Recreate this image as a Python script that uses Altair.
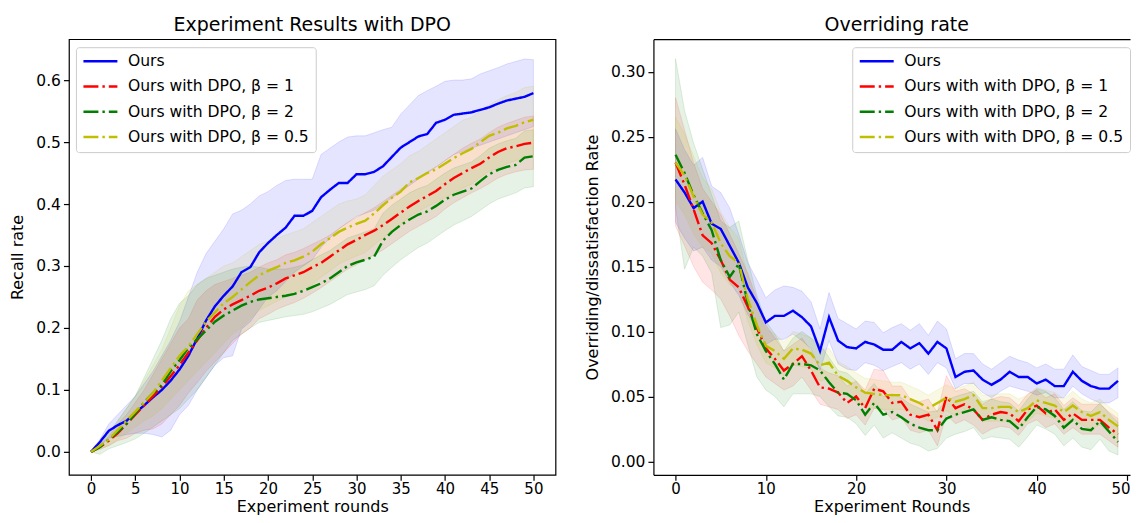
import altair as alt
import pandas as pd

# ---------------- data ----------------
ROUNDS_L = list(range(51))
ROUNDS_R = list(range(50))

LABELS_L = ["Ours", "Ours with DPO, β = 1", "Ours with DPO, β = 2", "Ours with DPO, β = 0.5"]
LABELS_R = ["Ours", "Ours with with DPO, β = 1", "Ours with with DPO, β = 2", "Ours with with DPO, β = 0.5"]

# Left panel: recall rate
L_OURS = [0.000, 0.016, 0.034, 0.043, 0.050, 0.063, 0.075, 0.088, 0.100, 0.115,
          0.133, 0.155, 0.183, 0.212, 0.235, 0.252, 0.267, 0.290, 0.298, 0.322,
          0.337, 0.350, 0.362, 0.381, 0.381, 0.389, 0.411, 0.423, 0.434, 0.434,
          0.448, 0.448, 0.452, 0.461, 0.476, 0.491, 0.500, 0.509, 0.513, 0.531,
          0.536, 0.544, 0.546, 0.548, 0.552, 0.556, 0.562, 0.567, 0.570, 0.573,
          0.579]
L_OURS_HI = [0.000, 0.020, 0.045, 0.060, 0.075, 0.090, 0.110, 0.130, 0.155, 0.180,
             0.210, 0.250, 0.290, 0.320, 0.340, 0.360, 0.384, 0.390, 0.400, 0.413,
             0.420, 0.430, 0.438, 0.440, 0.440, 0.440, 0.480, 0.490, 0.500, 0.508,
             0.510, 0.510, 0.515, 0.520, 0.524, 0.545, 0.560, 0.575, 0.583, 0.590,
             0.598, 0.600, 0.600, 0.602, 0.610, 0.615, 0.620, 0.626, 0.630, 0.634,
             0.633]
L_OURS_LO = [0.000, 0.010, 0.022, 0.025, 0.028, 0.030, 0.030, 0.028, 0.024, 0.035,
             0.060, 0.075, 0.100, 0.120, 0.140, 0.152, 0.155, 0.198, 0.210, 0.230,
             0.250, 0.260, 0.275, 0.290, 0.300, 0.310, 0.330, 0.345, 0.360, 0.370,
             0.380, 0.385, 0.390, 0.400, 0.410, 0.420, 0.430, 0.440, 0.450, 0.460,
             0.470, 0.480, 0.485, 0.490, 0.495, 0.500, 0.505, 0.510, 0.515, 0.520,
             0.525]

L_B1 = [0.000, 0.008, 0.018, 0.030, 0.045, 0.060, 0.075, 0.090, 0.105, 0.122,
        0.140, 0.160, 0.180, 0.200, 0.218, 0.230, 0.238, 0.245, 0.252, 0.260,
        0.265, 0.272, 0.280, 0.285, 0.290, 0.298, 0.305, 0.315, 0.325, 0.335,
        0.342, 0.350, 0.357, 0.366, 0.376, 0.386, 0.396, 0.405, 0.413, 0.421,
        0.432, 0.442, 0.450, 0.458, 0.465, 0.475, 0.484, 0.490, 0.493, 0.497,
        0.499]
L_B1_HI = [0.000, 0.012, 0.025, 0.045, 0.060, 0.080, 0.100, 0.125, 0.150, 0.175,
           0.200, 0.215, 0.245, 0.260, 0.270, 0.275, 0.280, 0.285, 0.290, 0.298,
           0.305, 0.310, 0.318, 0.322, 0.328, 0.335, 0.342, 0.350, 0.360, 0.370,
           0.378, 0.386, 0.394, 0.404, 0.414, 0.424, 0.434, 0.443, 0.452, 0.460,
           0.470, 0.480, 0.490, 0.498, 0.505, 0.515, 0.524, 0.530, 0.535, 0.540,
           0.542]
L_B1_LO = [0.000, 0.004, 0.010, 0.018, 0.022, 0.030, 0.035, 0.037, 0.045, 0.060,
           0.075, 0.095, 0.112, 0.130, 0.145, 0.160, 0.175, 0.190, 0.200, 0.215,
           0.222, 0.230, 0.236, 0.241, 0.248, 0.256, 0.265, 0.275, 0.285, 0.295,
           0.302, 0.310, 0.318, 0.326, 0.336, 0.346, 0.356, 0.364, 0.372, 0.380,
           0.392, 0.402, 0.410, 0.418, 0.425, 0.433, 0.442, 0.448, 0.452, 0.455,
           0.456]

L_B2 = [0.000, 0.008, 0.020, 0.032, 0.045, 0.062, 0.080, 0.095, 0.108, 0.130,
        0.148, 0.168, 0.182, 0.196, 0.210, 0.220, 0.228, 0.236, 0.242, 0.246,
        0.248, 0.250, 0.252, 0.255, 0.260, 0.266, 0.272, 0.280, 0.290, 0.300,
        0.306, 0.310, 0.315, 0.341, 0.355, 0.366, 0.375, 0.383, 0.388, 0.397,
        0.407, 0.415, 0.420, 0.425, 0.437, 0.448, 0.455, 0.460, 0.463, 0.475,
        0.477]
L_B2_HI = [0.000, 0.012, 0.030, 0.050, 0.070, 0.090, 0.120, 0.150, 0.180, 0.215,
           0.240, 0.252, 0.270, 0.280, 0.285, 0.290, 0.295, 0.298, 0.300, 0.298,
           0.295, 0.295, 0.295, 0.298, 0.302, 0.310, 0.318, 0.325, 0.335, 0.345,
           0.350, 0.355, 0.360, 0.385, 0.398, 0.408, 0.418, 0.425, 0.430, 0.440,
           0.450, 0.458, 0.463, 0.468, 0.478, 0.490, 0.497, 0.502, 0.506, 0.518,
           0.520]
L_B2_LO = [0.000, -0.004, 0.005, 0.010, 0.015, 0.021, 0.030, 0.040, 0.050, 0.060,
           0.070, 0.085, 0.100, 0.120, 0.140, 0.160, 0.180, 0.190, 0.200, 0.209,
           0.212, 0.215, 0.218, 0.220, 0.222, 0.226, 0.232, 0.238, 0.246, 0.254,
           0.258, 0.262, 0.268, 0.285, 0.298, 0.310, 0.320, 0.330, 0.337, 0.347,
           0.357, 0.366, 0.373, 0.380, 0.390, 0.400, 0.408, 0.413, 0.418, 0.426,
           0.428]

L_B05 = [0.000, 0.010, 0.020, 0.035, 0.050, 0.065, 0.080, 0.095, 0.115, 0.135,
         0.155, 0.170, 0.190, 0.210, 0.225, 0.240, 0.250, 0.262, 0.274, 0.285,
         0.292, 0.298, 0.305, 0.309, 0.315, 0.323, 0.335, 0.345, 0.355, 0.362,
         0.368, 0.373, 0.385, 0.398, 0.410, 0.420, 0.435, 0.442, 0.450, 0.456,
         0.465, 0.474, 0.482, 0.489, 0.500, 0.510, 0.515, 0.522, 0.526, 0.532,
         0.536]
L_B05_HI = [0.000, 0.014, 0.030, 0.050, 0.070, 0.090, 0.115, 0.140, 0.165, 0.200,
            0.236, 0.260, 0.270, 0.280, 0.290, 0.300, 0.305, 0.315, 0.325, 0.335,
            0.340, 0.345, 0.350, 0.355, 0.360, 0.370, 0.380, 0.390, 0.400, 0.405,
            0.408, 0.415, 0.430, 0.445, 0.455, 0.465, 0.478, 0.485, 0.495, 0.505,
            0.515, 0.525, 0.535, 0.540, 0.550, 0.560, 0.568, 0.575, 0.580, 0.588,
            0.590]
L_B05_LO = [0.000, 0.005, 0.010, 0.020, 0.030, 0.040, 0.050, 0.058, 0.070, 0.085,
            0.100, 0.115, 0.130, 0.145, 0.160, 0.175, 0.190, 0.200, 0.215, 0.228,
            0.236, 0.243, 0.250, 0.256, 0.262, 0.270, 0.282, 0.292, 0.303, 0.310,
            0.316, 0.322, 0.334, 0.345, 0.356, 0.366, 0.380, 0.388, 0.396, 0.403,
            0.410, 0.418, 0.426, 0.432, 0.443, 0.453, 0.458, 0.465, 0.470, 0.476,
            0.480]

# Right panel: overriding / dissatisfaction rate
R_OURS = [0.217, 0.207, 0.195, 0.200, 0.183, 0.179, 0.166, 0.153, 0.134, 0.122,
          0.107, 0.112, 0.112, 0.116, 0.111, 0.104, 0.085, 0.111, 0.093, 0.088,
          0.087, 0.092, 0.090, 0.086, 0.086, 0.092, 0.087, 0.091, 0.083, 0.092,
          0.087, 0.065, 0.069, 0.070, 0.063, 0.059, 0.063, 0.069, 0.065, 0.065,
          0.060, 0.063, 0.058, 0.058, 0.069, 0.062, 0.058, 0.056, 0.056, 0.062]
R_OURS_HI = [0.256, 0.240, 0.228, 0.234, 0.212, 0.207, 0.195, 0.175, 0.153, 0.140,
             0.126, 0.132, 0.135, 0.134, 0.131, 0.123, 0.102, 0.130, 0.110, 0.106,
             0.102, 0.108, 0.107, 0.099, 0.103, 0.106, 0.101, 0.106, 0.097, 0.108,
             0.102, 0.079, 0.083, 0.083, 0.075, 0.071, 0.076, 0.081, 0.078, 0.076,
             0.072, 0.075, 0.071, 0.071, 0.082, 0.073, 0.070, 0.067, 0.067, 0.072]
R_OURS_LO = [0.184, 0.172, 0.162, 0.165, 0.155, 0.150, 0.138, 0.128, 0.113, 0.102,
             0.090, 0.094, 0.094, 0.098, 0.093, 0.087, 0.070, 0.093, 0.075, 0.071,
             0.070, 0.076, 0.074, 0.070, 0.073, 0.076, 0.071, 0.075, 0.067, 0.076,
             0.072, 0.056, 0.060, 0.060, 0.053, 0.049, 0.054, 0.058, 0.056, 0.054,
             0.051, 0.053, 0.049, 0.049, 0.058, 0.052, 0.048, 0.045, 0.045, 0.049]

R_B1 = [0.230, 0.213, 0.194, 0.174, 0.168, 0.155, 0.140, 0.134, 0.119, 0.103,
        0.087, 0.079, 0.070, 0.075, 0.081, 0.070, 0.057, 0.056, 0.053, 0.045,
        0.050, 0.041, 0.056, 0.054, 0.045, 0.046, 0.036, 0.034, 0.036, 0.024,
        0.050, 0.041, 0.044, 0.040, 0.032, 0.036, 0.038, 0.037, 0.031, 0.040,
        0.043, 0.037, 0.040, 0.032, 0.037, 0.032, 0.032, 0.032, 0.026, 0.021]
R_B1_HI = [0.280, 0.255, 0.230, 0.210, 0.200, 0.190, 0.175, 0.160, 0.145, 0.125,
           0.105, 0.095, 0.085, 0.090, 0.095, 0.085, 0.072, 0.068, 0.066, 0.058,
           0.062, 0.055, 0.071, 0.070, 0.058, 0.058, 0.048, 0.046, 0.048, 0.038,
           0.066, 0.054, 0.056, 0.052, 0.044, 0.048, 0.050, 0.049, 0.043, 0.052,
           0.055, 0.049, 0.052, 0.043, 0.049, 0.044, 0.044, 0.044, 0.038, 0.033]
R_B1_LO = [0.181, 0.166, 0.150, 0.138, 0.132, 0.125, 0.112, 0.097, 0.085, 0.075,
           0.065, 0.060, 0.055, 0.058, 0.065, 0.055, 0.044, 0.042, 0.040, 0.033,
           0.036, 0.028, 0.041, 0.040, 0.032, 0.034, 0.024, 0.022, 0.024, 0.012,
           0.036, 0.029, 0.032, 0.028, 0.021, 0.025, 0.027, 0.026, 0.020, 0.029,
           0.032, 0.026, 0.029, 0.021, 0.026, 0.021, 0.021, 0.021, 0.016, 0.011]

R_B2 = [0.236, 0.222, 0.205, 0.191, 0.178, 0.155, 0.142, 0.152, 0.122, 0.098,
        0.085, 0.075, 0.063, 0.075, 0.075, 0.074, 0.070, 0.061, 0.053, 0.052,
        0.047, 0.036, 0.045, 0.036, 0.038, 0.034, 0.029, 0.026, 0.024, 0.024,
        0.033, 0.036, 0.038, 0.040, 0.032, 0.034, 0.032, 0.031, 0.025, 0.034,
        0.042, 0.040, 0.035, 0.026, 0.032, 0.025, 0.024, 0.031, 0.023, 0.015]
R_B2_HI = [0.310, 0.270, 0.245, 0.225, 0.205, 0.185, 0.180, 0.185, 0.155, 0.128,
           0.108, 0.098, 0.085, 0.095, 0.100, 0.095, 0.090, 0.080, 0.070, 0.068,
           0.062, 0.052, 0.060, 0.050, 0.052, 0.049, 0.044, 0.041, 0.038, 0.039,
           0.047, 0.050, 0.052, 0.054, 0.046, 0.048, 0.046, 0.045, 0.039, 0.048,
           0.056, 0.054, 0.049, 0.040, 0.046, 0.039, 0.038, 0.045, 0.037, 0.030]
R_B2_LO = [0.195, 0.148, 0.165, 0.158, 0.145, 0.103, 0.105, 0.115, 0.090, 0.065,
           0.055, 0.050, 0.042, 0.052, 0.052, 0.052, 0.050, 0.042, 0.035, 0.034,
           0.029, 0.020, 0.028, 0.018, 0.022, 0.018, 0.014, 0.012, 0.008, 0.010,
           0.018, 0.021, 0.023, 0.026, 0.017, 0.019, 0.018, 0.017, 0.011, 0.019,
           0.028, 0.025, 0.021, 0.012, 0.018, 0.011, 0.009, 0.017, 0.008, 0.005]

R_B05 = [0.230, 0.220, 0.204, 0.190, 0.184, 0.168, 0.158, 0.153, 0.125, 0.105,
         0.089, 0.085, 0.079, 0.087, 0.086, 0.083, 0.074, 0.076, 0.066, 0.062,
         0.057, 0.053, 0.052, 0.051, 0.051, 0.051, 0.048, 0.045, 0.041, 0.045,
         0.049, 0.046, 0.048, 0.051, 0.041, 0.041, 0.042, 0.042, 0.038, 0.041,
         0.047, 0.045, 0.043, 0.038, 0.043, 0.038, 0.035, 0.038, 0.032, 0.027]
R_B05_HI = [0.265, 0.252, 0.235, 0.218, 0.210, 0.192, 0.180, 0.172, 0.142, 0.120,
            0.102, 0.098, 0.092, 0.100, 0.098, 0.095, 0.086, 0.087, 0.077, 0.073,
            0.068, 0.064, 0.063, 0.062, 0.061, 0.061, 0.058, 0.055, 0.051, 0.055,
            0.059, 0.056, 0.058, 0.061, 0.051, 0.051, 0.052, 0.052, 0.048, 0.051,
            0.057, 0.055, 0.053, 0.048, 0.054, 0.048, 0.045, 0.048, 0.042, 0.037]
R_B05_LO = [0.200, 0.190, 0.175, 0.165, 0.160, 0.145, 0.136, 0.133, 0.108, 0.090,
            0.076, 0.072, 0.066, 0.074, 0.073, 0.071, 0.062, 0.064, 0.054, 0.051,
            0.046, 0.042, 0.041, 0.040, 0.040, 0.040, 0.038, 0.035, 0.031, 0.034,
            0.039, 0.035, 0.038, 0.041, 0.031, 0.031, 0.031, 0.031, 0.028, 0.031,
            0.037, 0.035, 0.033, 0.028, 0.033, 0.028, 0.025, 0.028, 0.022, 0.017]

COLORS = ["#0000ff", "#ff0000", "#008000", "#bfbf00"]
DASHES = [[1, 0], [15, 4, 2.4, 4], [15, 4, 2.4, 4], [15, 4, 2.4, 4]]
FONT = "DejaVu Sans"


def long_df(rounds, labels, means, los, his):
    rows = []
    for lab, m, lo, hi in zip(labels, means, los, his):
        for r, a, b, c in zip(rounds, m, lo, hi):
            rows.append({"round": r, "series": lab, "band": lab, "mean": a, "lo": b, "hi": c})
    return pd.DataFrame(rows)


df_left = long_df(ROUNDS_L, LABELS_L,
                  [L_OURS, L_B1, L_B2, L_B05],
                  [L_OURS_LO, L_B1_LO, L_B2_LO, L_B05_LO],
                  [L_OURS_HI, L_B1_HI, L_B2_HI, L_B05_HI])
df_right = long_df(ROUNDS_R, LABELS_R,
                   [R_OURS, R_B1, R_B2, R_B05],
                   [R_OURS_LO, R_B1_LO, R_B2_LO, R_B05_LO],
                   [R_OURS_HI, R_B1_HI, R_B2_HI, R_B05_HI])


def panel(df, labels, xdom, xvals, ydom, yvals, yfmt, title, xtitle, ytitle,
          lx, ly, width, title_dx, open_right):
    xs = alt.Scale(domain=xdom, nice=False, zero=False)
    ys = alt.Scale(domain=ydom, nice=False, zero=False)
    dom = dict(domain=True, domainColor="black", domainWidth=1.2) if open_right else {}
    flush = dict(labelFlush=6, labelFlushOffset=3) if open_right else dict(labelFlush=False)
    xax = alt.Axis(values=xvals, format="d", title=xtitle, **flush, **dom)
    yax = alt.Axis(values=yvals, format=yfmt, title=ytitle, labelFlush=False, **dom)
    legend = alt.Legend(
        orient="none", legendX=lx, legendY=ly, direction="vertical", title=None,
        fillColor="white", strokeColor="#cccccc", cornerRadius=3, padding=6,
        symbolType="stroke", symbolSize=1156, symbolStrokeWidth=2.4,
        clipHeight=16, rowPadding=8.3, labelOffset=9, labelLimit=400,
        labelFont=FONT, labelFontSize=15.6, labelColor="black",
    )
    # band scales use reversed domain order so their (hidden) legends stay separate
    band_scale = alt.Scale(domain=labels[::-1], range=COLORS[::-1])
    bands = alt.Chart(df).mark_area(fillOpacity=0.1, strokeOpacity=0.12, strokeWidth=1, clip=True).encode(
        x=alt.X("round:Q", scale=xs, axis=xax),
        y=alt.Y("lo:Q", scale=ys, axis=yax),
        y2="hi:Q",
        fill=alt.Fill("band:N", scale=band_scale, legend=None),
        stroke=alt.Stroke("band:N", scale=band_scale, legend=None),
    )
    if open_right:
        top_ax = alt.Axis(orient="top", labels=False, ticks=False, title=None,
                          domain=True, domainColor="black", domainWidth=1.2)
        line_x = alt.X("round:Q", scale=xs, axis=top_ax)
    else:
        line_x = alt.X("round:Q", scale=xs, axis=xax)
    lines = alt.Chart(df).mark_line(strokeWidth=2.4, clip=True).encode(
        x=line_x,
        y=alt.Y("mean:Q", scale=ys, axis=yax),
        color=alt.Color("series:N", scale=alt.Scale(domain=labels, range=COLORS), legend=legend),
        strokeDash=alt.StrokeDash("series:N", scale=alt.Scale(domain=labels, range=DASHES), legend=legend),
    )
    layer = alt.layer(bands, lines).properties(
        width=width, height=436, title=alt.TitleParams(title, dx=title_dx)
    )
    if open_right:
        layer = layer.resolve_axis(x="independent").properties(
            view=alt.ViewBackground(strokeOpacity=0)
        )
    return layer


left = panel(df_left, LABELS_L, [-2.5, 52.5], list(range(0, 51, 5)), [-0.037, 0.666],
             [0, 0.1, 0.2, 0.3, 0.4, 0.5, 0.6], ".1f",
             "Experiment Results with DPO", "Experiment rounds", "Recall rate",
             7, 8, 487, 0, False)
right = panel(df_right, LABELS_R, [-2.45, 50.33], list(range(0, 51, 10)), [-0.0103, 0.325],
              [0, 0.05, 0.1, 0.15, 0.2, 0.25, 0.3], ".2f",
              "Overriding rate", "Experiment Rounds", "Overriding/dissatisfaction Rate",
              199, 8, 477, 5, True)

chart = alt.hconcat(left, right, spacing=27).resolve_scale(
    color="independent", strokeDash="independent", fill="independent",
    stroke="independent", x="independent", y="independent"
).resolve_legend(color="independent", strokeDash="independent").properties(
    padding={"left": 1, "top": 7, "right": 0, "bottom": 0}
).configure_view(
    stroke="black", strokeWidth=1.2
).configure_axis(
    labelFont=FONT, labelFontSize=15.5, labelColor="black",
    titleFont=FONT, titleFontSize=16, titleFontWeight="normal", titleColor="black",
    tickColor="black", tickSize=5.5, tickWidth=1.2, domain=False, grid=False,
    labelPadding=3, titlePadding=10,
).configure_axisX(
    labelFontSize=15, labelPadding=1.5, titlePadding=1.5
).configure_title(
    font=FONT, fontSize=19, fontWeight="normal", color="black", offset=4, anchor="middle"
)

chart.save("out.html", embed_options={"renderer": "svg", "actions": False})
